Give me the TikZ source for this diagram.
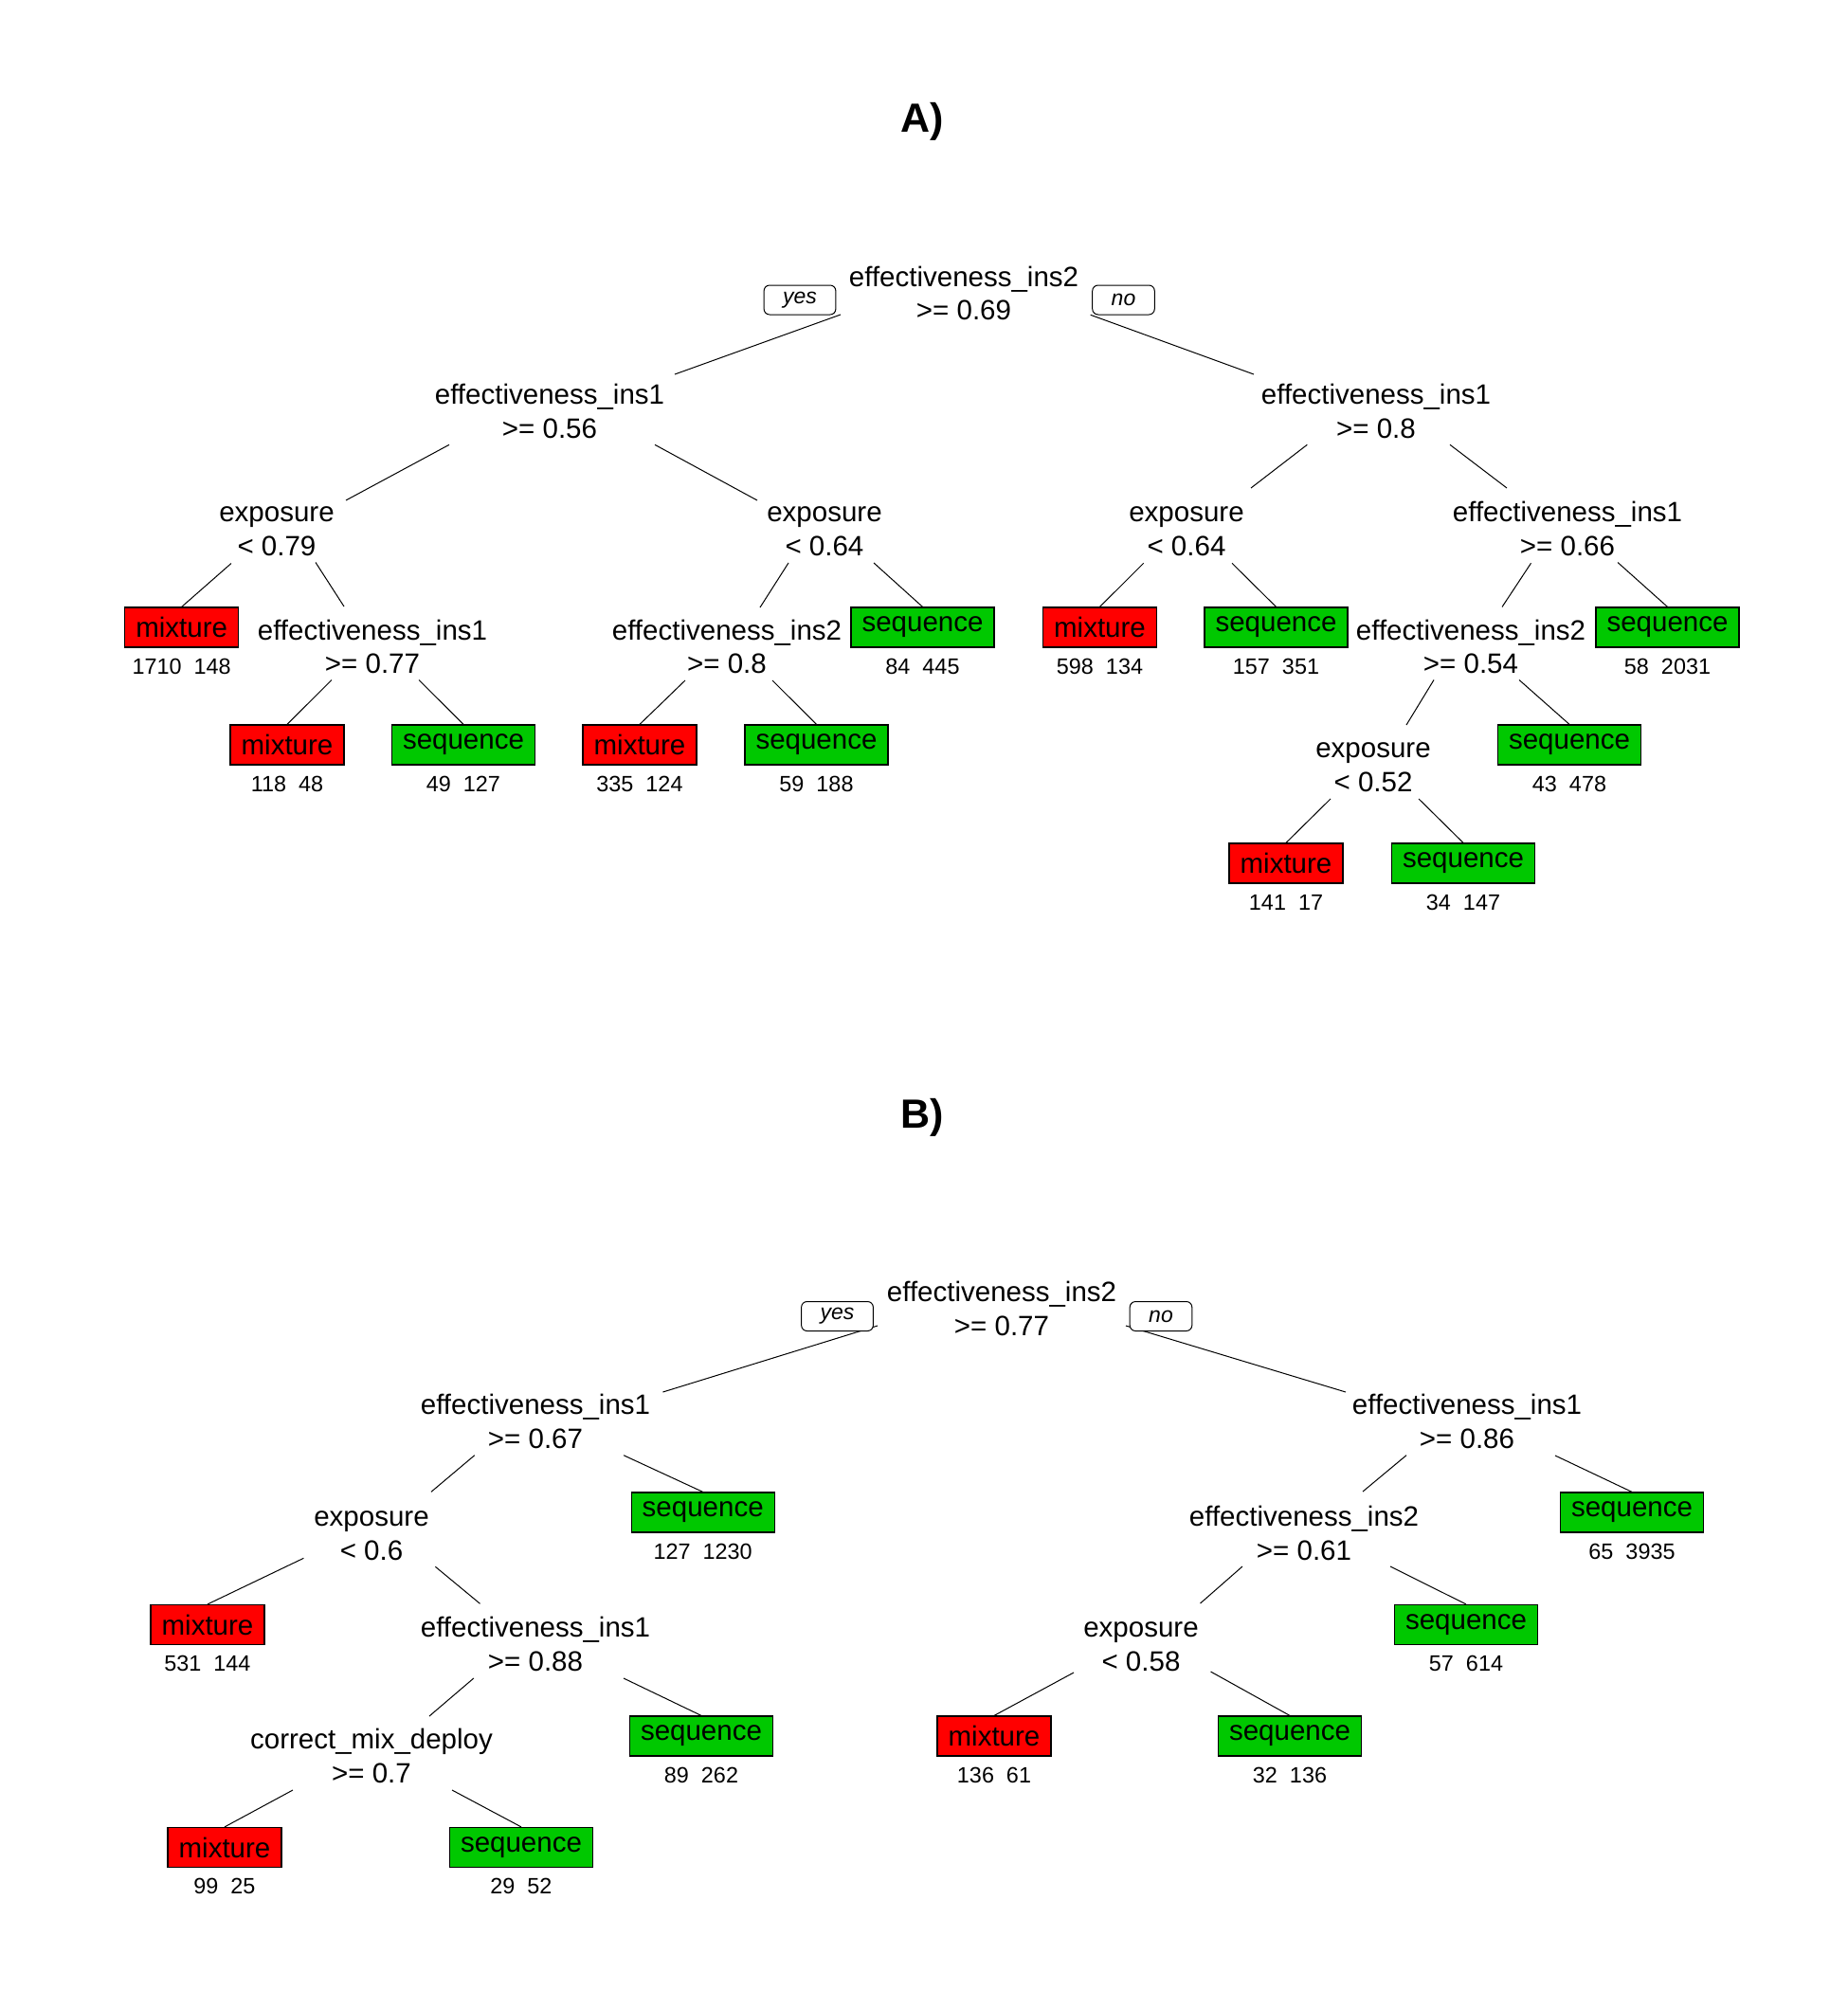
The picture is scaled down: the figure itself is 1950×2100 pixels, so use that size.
\documentclass[tikz,border=0pt]{standalone}
\usepackage{fontspec}
\setmainfont{Liberation Sans}
\definecolor{mixred}{HTML}{FF0000}
\definecolor{seqgreen}{HTML}{00C800}
% leaf box with its class counts underneath
\newcommand\mixleaf[4]{\node[mixbox] (#1) at (#2,#3) {mixture};
  \node[counts] (#1n) at (#2,#3+41) {#4};}
\newcommand\seqleaf[4]{\node[seqbox] (#1) at (#2,#3) {sequence};
  \node[counts] (#1n) at (#2,#3+41) {#4};}
% branch between two nodes, each end offset from the given anchor
\newcommand\branch[4]{\draw[branchline] ([shift={#2}]#1) -- ([shift={#4}]#3);}
\begin{document}
\begin{tikzpicture}[x=1pt,y=-1pt,
  % two-line split labels: box runs from the top of line 1 to the last baseline
  split/.style={align=center,font=\fontsize{29.5pt}{35.5pt}\selectfont,
    inner sep=0pt,text height=57pt,text depth=0pt},
  leaf/.style={draw=black,line width=1.2pt,minimum height=42pt,inner sep=0pt,
    font=\fontsize{29.5pt}{35.5pt}\selectfont},
  mixbox/.style={leaf,fill=mixred,minimum width=120pt},
  seqbox/.style={leaf,fill=seqgreen,minimum width=151pt},
  counts/.style={font=\fontsize{23.4pt}{28pt}\selectfont,inner sep=0pt},
  answer/.style={draw=black,fill=white,rounded corners=6pt,line width=1pt,
    inner xsep=20pt,inner ysep=0pt,minimum height=31pt,
    font=\itshape\fontsize{23pt}{28pt}\selectfont},
  title/.style={font=\bfseries\fontsize{43pt}{50pt}\selectfont,inner sep=0pt},
  branchline/.style={line width=1pt}]
\path[use as bounding box,fill=white] (0,0) rectangle (1950,2100);

% ---------------- tree A ----------------
\node[title] (tA) at (973,128) {A)};
\node[split] (rA)    at (1017,309)    {effectiveness\_ins2\\>= 0.69};
\node[split] (aL1)   at (580,433.5)   {effectiveness\_ins1\\>= 0.56};
\node[split] (aR1)   at (1452,433.5)  {effectiveness\_ins1\\>= 0.8};
\node[split] (aLL)   at (292,557.5)   {exposure\\< 0.79};
\node[split] (aLR)   at (870,557.5)   {exposure\\< 0.64};
\node[split] (aRL)   at (1252,557.5)  {exposure\\< 0.64};
\node[split] (aRR)   at (1654,557.5)  {effectiveness\_ins1\\>= 0.66};
\node[split] (aLLR)  at (393,682)     {effectiveness\_ins1\\>= 0.77};
\node[split] (aLRL)  at (767,682)     {effectiveness\_ins2\\>= 0.8};
\node[split] (aRRL)  at (1552,682)    {effectiveness\_ins2\\>= 0.54};
\node[split] (aRRLL) at (1449,806.5)  {exposure\\< 0.52};

\mixleaf{aM1}{191.7}{662}{1710~~148}
\seqleaf{aS1}{973.5}{662}{84~~445}
\mixleaf{aM2}{1160.5}{662}{598~~134}
\seqleaf{aS2}{1346.5}{662}{157~~351}
\seqleaf{aS3}{1759.5}{662}{58~~2031}
\mixleaf{aM3}{303}{786}{118~~48}
\seqleaf{aS4}{489}{786}{49~~127}
\mixleaf{aM4}{675}{786}{335~~124}
\seqleaf{aS5}{861.5}{786}{59~~188}
\seqleaf{aS6}{1656}{786}{43~~478}
\mixleaf{aM5}{1357}{911}{141~~17}
\seqleaf{aS7}{1544}{911}{34~~147}

\branch{rA.center}{(-130,23)}{aL1.center}{(132,-38.5)}
\branch{rA.center}{(133.7,23.3)}{aR1.center}{(-129,-38.5)}
\branch{aL1.center}{(-106,35.8)}{aLL.center}{(73,-29.5)}
\branch{aL1.center}{(111,35.8)}{aLR.center}{(-71,-29.5)}
\branch{aR1.center}{(-72.7,35.8)}{aRL.center}{(68,-42.5)}
\branch{aR1.center}{(78,35.8)}{aRR.center}{(-64,-42.5)}
\branch{aLL.center}{(-48,37)}{aM1.north}{(0,0)}
\branch{aLL.center}{(41,36)}{aLLR.center}{(-30,-42)}
\branch{aLR.center}{(-38,36.5)}{aLRL.center}{(35,-41)}
\branch{aLR.center}{(52,36.5)}{aS1.north}{(0,0)}
\branch{aRL.center}{(-45.3,36.8)}{aM2.north}{(0,0)}
\branch{aRL.center}{(48,36.8)}{aS2.north}{(0,0)}
\branch{aRR.center}{(-38.5,36.8)}{aRRL.center}{(33,-41.5)}
\branch{aRR.center}{(53,36)}{aS3.north}{(0,0)}
\branch{aLLR.center}{(-43,35.5)}{aM3.north}{(0,0)}
\branch{aLLR.center}{(49,35.5)}{aS4.north}{(0,0)}
\branch{aLRL.center}{(-44,36)}{aM4.north}{(0,0)}
\branch{aLRL.center}{(48,36)}{aS5.north}{(0,0)}
\branch{aRRL.center}{(-39,35.5)}{aRRLL.center}{(35,-41.5)}
\branch{aRRL.center}{(51,35.5)}{aS6.north}{(0,0)}
\branch{aRRLL.center}{(-45,36.5)}{aM5.north}{(0,0)}
\branch{aRRLL.center}{(48,36.5)}{aS7.north}{(0,0)}

\node[answer] (aYes) at (844,316.5) {yes};
\node[answer] (aNo) at (1185.5,316.5) {no};

% ---------------- tree B ----------------
\node[title] (tB) at (973,1179) {B)};
\node[split] (rB)    at (1057,1380.5) {effectiveness\_ins2\\>= 0.77};
\node[split] (bL1)   at (565,1499.5)  {effectiveness\_ins1\\>= 0.67};
\node[split] (bR1)   at (1548,1499.5) {effectiveness\_ins1\\>= 0.86};
\node[split] (bLL)   at (392,1617.5)  {exposure\\< 0.6};
\node[split] (bRL)   at (1376,1617.5) {effectiveness\_ins2\\>= 0.61};
\node[split] (bLLR)  at (565,1734.5)  {effectiveness\_ins1\\>= 0.88};
\node[split] (bRLL)  at (1204,1734.5) {exposure\\< 0.58};
\node[split] (bLLRL) at (392,1852.5)  {correct\_mix\_deploy\\>= 0.7};

\seqleaf{bS1}{741.7}{1596}{127~~1230}
\seqleaf{bS2}{1722}{1596}{65~~3935}
\mixleaf{bM1}{219}{1714.5}{531~~144}
\seqleaf{bS3}{1547}{1714.5}{57~~614}
\seqleaf{bS4}{740}{1832}{89~~262}
\mixleaf{bM2}{1049}{1832}{136~~61}
\seqleaf{bS5}{1361}{1832}{32~~136}
\mixleaf{bM3}{237}{1949.5}{99~~25}
\seqleaf{bS6}{550}{1949.5}{29~~52}

\branch{rB.center}{(-131,18.5)}{bL1.center}{(134.4,-30.5)}
\branch{rB.center}{(131,18.5)}{bR1.center}{(-128,-30.5)}
\branch{bL1.center}{(-64.2,36.2)}{bLL.center}{(63,-43.2)}
\branch{bL1.center}{(93,36.2)}{bS1.north}{(0,0)}
\branch{bLL.center}{(-71.6,26.8)}{bM1.north}{(0,0)}
\branch{bLL.center}{(67.4,35.8)}{bLLR.center}{(-58.5,-42.2)}
\branch{bLLR.center}{(-65.2,36.5)}{bLLRL.center}{(61,-41.5)}
\branch{bLLR.center}{(93,36.5)}{bS4.north}{(0,0)}
\branch{bLLRL.center}{(-83,36.5)}{bM3.north}{(0,0)}
\branch{bLLRL.center}{(85,36.5)}{bS6.north}{(0,0)}
\branch{bR1.center}{(-64,36.2)}{bRL.center}{(62,-43.5)}
\branch{bR1.center}{(93,36.5)}{bS2.north}{(0,0)}
\branch{bRL.center}{(-65,35.5)}{bRLL.center}{(62.5,-42.5)}
\branch{bRL.center}{(91,35.5)}{bS3.north}{(0,0)}
\branch{bRLL.center}{(-71,30.5)}{bM2.north}{(0,0)}
\branch{bRLL.center}{(73.5,29.5)}{bS5.north}{(0,0)}

\node[answer] (bYes) at (883.5,1389) {yes};
\node[answer] (bNo) at (1225,1389) {no};
\end{tikzpicture}
\end{document}
